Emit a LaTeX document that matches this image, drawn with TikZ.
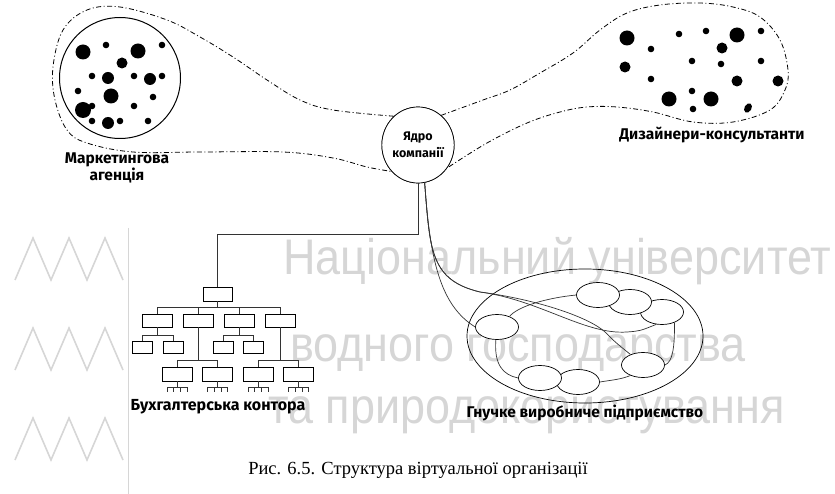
\documentclass[tikz,border=0pt]{standalone}
\usepackage{fontspec}
\setmainfont{Liberation Serif}
\newfontfamily\lblfont{Fira Sans}
\newfontfamily\wmfont{Liberation Sans}
\usetikzlibrary{shapes.geometric,positioning}

\tikzset{
  lbl/.style={font=\lblfont\bfseries\fontsize{15.5}{16}\selectfont, align=center, inner sep=0pt},
  dashdot loop/.style={dash pattern=on 5pt off 2.5pt on 1pt off 2.5pt, line width=0.8pt},
  bigbox/.style={draw, fill=white, minimum width=30pt, minimum height=14pt, inner sep=0pt, line width=0.7pt},
  smallbox/.style={bigbox, minimum width=20pt, minimum height=12pt},
  cell/.style={draw, ellipse, fill=white, minimum width=43pt, minimum height=25pt, inner sep=0pt, line width=0.7pt},
  link/.style={line width=0.7pt, draw=black!80},
  wm/.style={text=black!16, font=\wmfont\fontsize{50}{50}\selectfont, inner sep=0pt, anchor=base west},
  zig/.style={draw=black!16, line width=1.6pt},
  core/.style={draw, ellipse, fill=white, minimum width=64pt, minimum height=76pt, inner sep=0pt,
    line width=0.7pt, font=\lblfont\bfseries\fontsize{12.5}{17}\selectfont, align=center},
}
\newcommand{\wmtext}[1]{\scalebox{0.9}[1]{#1}}

\begin{document}
\begin{tikzpicture}[x=1pt,y=-1pt]
\useasboundingbox (0,0) rectangle (835,494);

% watermark
\node[wm] (wm1) at (283,275) {\wmtext{Національний університет}};
\node[wm] (wm2) at (290,361) {\wmtext{водного господарства}};
\node[wm] (wm3) at (268,423) {\wmtext{та природокористування}};
\foreach \y in {280,370,460}
  \draw[zig] (15,\y) -- ++(18,-42) -- ++(18,42) -- ++(18,-42) -- ++(18,42) -- ++(18,-42) -- ++(18,42);
\draw[zig, line width=1pt] (128,228) -- (128,494);

% dash-dot loops
\node[core] (hub) at (418,145) {Ядро\\компанії};
\draw[dashdot loop] plot[smooth, tension=0.6] coordinates {(hub.130) (333,110) (300,100) (267,80) (233,57)
  (200,37) (167,20) (120,7) (87,10) (63,30) (53,67) (55,100) (67,130) (87,143) (133,152) (200,152)
  (283,152) (333,158) (367,167) (hub.-135)};
\draw[dashdot loop] plot[smooth, tension=0.6] coordinates {(hub.52) (483,100) (510,90) (540,73) (573,53)
  (600,30) (627,13) (660,5) (700,3) (733,7) (760,17) (780,40) (788,70) (785,90) (770,110) (733,122)
  (693,122) (653,112) (617,107) (587,107) (560,112) (527,123) (487,143) (hub.-38)};
\node[core] at (hub) {Ядро\\компанії};

% marketing agency
\node[draw, circle, minimum size=121pt, line width=1pt] (agency) at (120,78) {};
\foreach \x/\y/\r in {83/52/7.5, 138/51/7.5, 122/63/5.5, 108/78/6, 150/79/6, 111/96/7.5, 83/110/8, 108/123/6,
  106/45/3.3, 162/45/3.3, 92/76/3.3, 134/76/3.3, 162/76/3.3, 78/91/3.3, 153/97/3.3, 92/106/3.3, 134/106/3.3,
  92/121/3.3, 120/121/3.3, 148/121/3.3}
  \fill (\x,\y) circle[radius=\r];
\node[lbl] (agencylbl) at (117,168) {Маркетингова\\агенція};

% designers
\foreach \x/\y/\r in {627/38/7.5, 737/35/7.5, 722/48/5.5, 625/67/5.5, 737/81/5.5, 778/81/5.5, 669/99/7.5,
  711/99/7.5, 679/34/3.3, 706/31/3.3, 761/31/3.3, 651/49/3.3, 692/61/3.3, 721/64/3.3, 761/61/3.3, 651/79/3.3,
  692/91/3.3, 693/109/3.3}
  \fill (\x,\y) circle[radius=\r];
\fill[rotate around={60:(748,108)}] (748,108) ellipse[x radius=5, y radius=3.5];
\node[lbl] (designlbl) at (712,135) {Дизайнери-консультанти};

% accounting office
\node[bigbox, minimum width=29pt] (root) at (217.5,294) {};
\node[bigbox, minimum height=13pt] (a1) at (157,320.5) {};
\node[bigbox, minimum height=13pt, right=10.5pt of a1] (a2) {};
\node[bigbox, minimum height=13pt, right=10.5pt of a2] (a3) {};
\node[bigbox, minimum height=13pt, right=10.5pt of a3] (a4) {};
\node[smallbox] (b1) at (142.5,347) {};
\node[smallbox, right=10pt of b1] (b2) {};
\node[smallbox] (b3) at (223,347) {};
\node[smallbox, right=10pt of b3] (b4) {};
\node[bigbox] (c1) at (177,374) {};
\node[bigbox, right=10pt of c1] (c2) {};
\node[bigbox] (c3) at (258,374) {};
\node[bigbox, right=10pt of c3] (c4) {};
\foreach \c in {a1,a2,a3,a4}
  \draw[link] (root.south) -- ++(0,6) -| (\c.north);
\foreach \p/\c in {a1/b1,a1/b2,a3/b3,a3/b4}
  \draw[link] (\p.south) -- ++(0,8) -| (\c.north);
\foreach \p/\c in {a2/c1,a2/c2,a4/c3,a4/c4}
  \draw[link] (\p.south) -- ++(0,33) -| (\c.north);
\foreach \c in {c1,c2,c3,c4}
  \draw[link] (\c.south) -- ++(0,6) ++(-10,0) -- ++(20,0)
    ++(-20,0) -- ++(0,5) ++(6.67,-5) -- ++(0,5) ++(6.67,-5) -- ++(0,5) ++(6.67,-5) -- ++(0,5);
\node[lbl, font=\lblfont\bfseries\fontsize{16}{16}\selectfont] (officelbl) at (218,407) {Бухгалтерська контора};

% core links
\coordinate (turn) at (417,234);
\draw[link] (hub.south) -- (hub.south |- turn) -| (root.north);

% flexible manufacturer
\node[draw, ellipse, minimum width=236pt, minimum height=134pt, inner sep=0pt, line width=0.7pt] (firm) at (585,336) {};
\node[cell] (e4) at (662,312) {};
\node[cell] (e3) at (630,302) {};
\node[cell] (e2) at (598,295) {};
\node[cell] (e1) at (497,327) {};
\node[cell] (e5) at (643,365) {};
\node[cell] (e7) at (578,382) {};
\node[cell] (e6) at (540,378) {};
\draw[link] (e1.40) .. controls +(8,-10) and +(-30,3) .. (e2.west);
\draw[link] (e1.-95) .. controls +(-2,25) and +(-15,-3) .. (e6.west);
\draw[link] (e7.east) .. controls +(12,-2) and +(-10,4) .. (e5.-140);
\draw[link] (e4.-40) .. controls +(0,25) and +(8,-3) .. (e5.east);
\draw[link] (hub.-80) .. controls (430,260) and (440,305) .. (e1.west);
\draw[link] (hub.-80) .. controls (430,250) and (430,280) .. (480,292)
  .. controls (540,300) and (585,335) .. (627,332) .. controls (640,331) .. (e4.-115);
\draw[link] (hub.-80) .. controls (430,250) and (430,280) .. (480,292)
  .. controls (540,300) and (590,318) .. (605,332) .. controls (615,342) .. (e5.140);
\node[lbl] (firmlbl) at (585,413) {Гнучке виробниче підприємство};

% caption
\node[font=\fontsize{18.5}{20}\selectfont, inner sep=0pt] (caption) at (418,470) {Рис. 6.5. Структура віртуальної організації};
\end{tikzpicture}
\end{document}
